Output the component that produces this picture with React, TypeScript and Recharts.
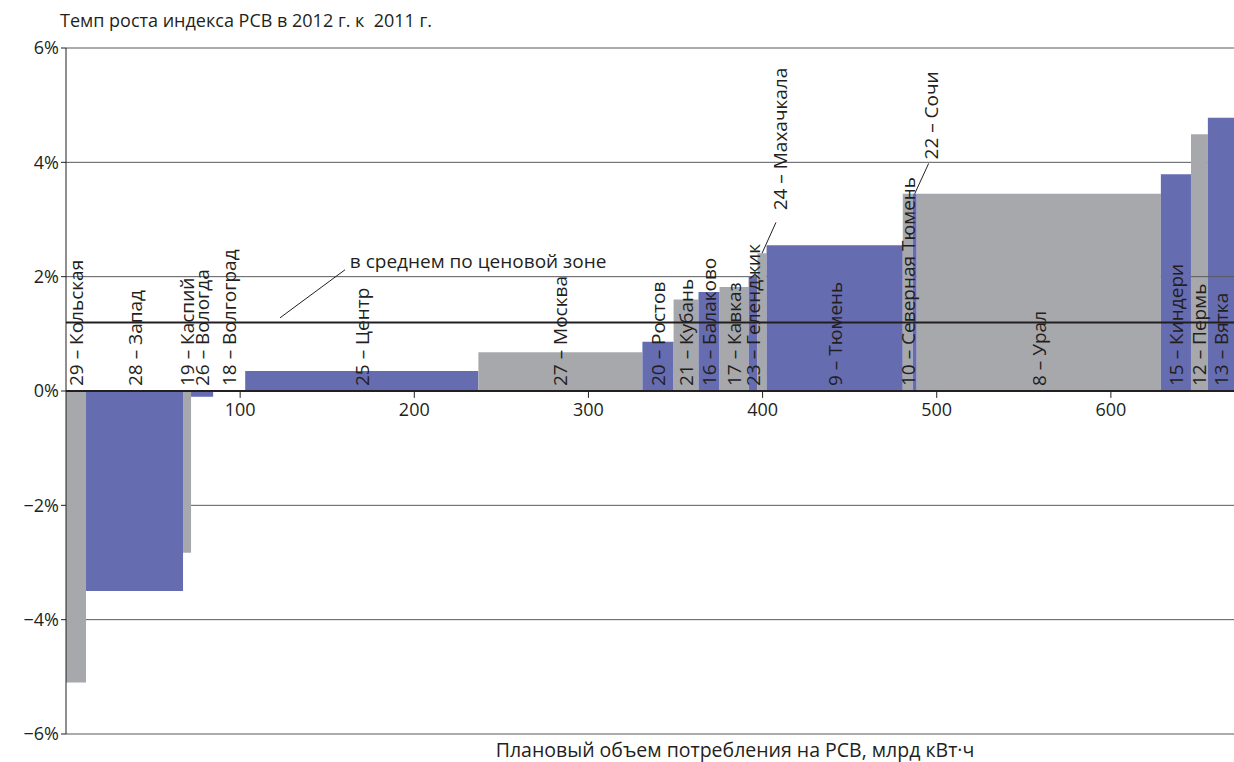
import { CartesianGrid, ComposedChart, ReferenceArea, ReferenceDot, ReferenceLine, Scatter, XAxis, YAxis } from 'recharts';

// regions in the order they are stacked along the volume axis
const regions = [
  '29 – Кольская',
  '28 – Запад',
  '19 – Каспий',
  '26 – Вологда',
  '18 – Волгоград',
  '25 – Центр',
  '27 – Москва',
  '20 – Ростов',
  '21 – Кубань',
  '16 – Балаково',
  '17 – Кавказ',
  '23 – Геленджик',
  '24 – Махачкала',
  '9 – Тюмень',
  '10 – Северная Тюмень',
  '22 – Сочи',
  '8 – Урал',
  '15 – Киндери',
  '12 – Пермь',
  '13 – Вятка',
];

// planned consumption, bn kWh (bar width)
const volumes = [11.5, 55.7, 4.6, 12.7, 18.4, 133.9, 94.2, 17.9, 14.3, 12.1, 16.7, 5.1, 5.2, 78.2, 5.7, 2.3, 140.2, 17.3, 9.7, 15.0];

// index growth 2012 vs 2011, % (bar height)
const growth = [-5.1, -3.5, -2.83, -0.1, 0, 0.35, 0.68, 0.86, 1.6, 1.73, 1.82, 2.0, 2.41, 2.55, 3.45, 3.45, 3.45, 3.79, 4.49, 4.78];

const shades = [
  'gray', 'blue', 'gray', 'blue', 'gray', 'blue', 'gray', 'blue', 'gray', 'blue',
  'gray', 'blue', 'gray', 'blue', 'gray', 'blue', 'gray', 'blue', 'gray', 'blue',
];

const averageGrowth = 1.2;
const xTicks = [100, 200, 300, 400, 500, 600];
const yTicks = [-6, -4, -2, 0, 2, 4, 6];

const COLORS: Record<string, string> = { blue: '#666cb0', gray: '#a7a8ab' };
const FONT = '"Open Sans", "Noto Sans", sans-serif';
const INK = '#231f20';
const GRID = '#58595b';
const LABEL_SIZE = 19;

// labels lifted above their bar on a short leader (offsets in axis units)
const CALLOUTS: Record<string, { leader: [number, number]; label: [number, number] }> = {
  '24 – Махачкала': { leader: [8, 0.54], label: [10.5, 0.75] },
  '22 – Сочи': { leader: [8, 0.53], label: [9.5, 0.6] },
};

const bars = regions.map((name, i) => {
  const start = volumes.slice(0, i).reduce((s, v) => s + v, 0);
  const end = start + volumes[i];
  return { name, start, end, mid: (start + end) / 2, value: growth[i], shade: shades[i] };
});
const xMax = bars[bars.length - 1].end;

// anchor points for the rotated region names
const labelPoints = bars.map((b) => {
  const c = CALLOUTS[b.name];
  return {
    name: b.name,
    x: c ? b.mid + c.label[0] : b.mid,
    y: c ? b.value + c.label[1] : 0,
    gap: c ? 0 : 5,
  };
});

const fmtPct = (v: number) => `${v < 0 ? '−' : ''}${Math.abs(v)}%`;

function VerticalLabel(props: any) {
  const { cx, cy, payload } = props;
  const py = cy - payload.gap;
  return (
    <text
      x={cx}
      y={py}
      transform={`rotate(-90 ${cx} ${py})`}
      textAnchor="start"
      dominantBaseline="central"
      fontSize={LABEL_SIZE}
      fontFamily={FONT}
      fill={INK}
    >
      {payload.name}
    </text>
  );
}

export default function App() {
  return (
    <div style={{ position: 'absolute', left: 0, top: 0, width: 1234, height: 762, background: '#fff', fontFamily: FONT }}>
      <div style={{ position: 'absolute', left: 60, top: 8, fontSize: 18, color: INK, whiteSpace: 'pre' }}>
        Темп роста индекса РСВ в 2012 г. к  2011 г.
      </div>
      <ComposedChart width={1234} height={762} margin={{ top: 48, right: 0, bottom: 28, left: 0 }}>
        <CartesianGrid horizontal vertical={false} stroke={GRID} />
        <XAxis type="number" dataKey="x" domain={[0, xMax]} hide allowDataOverflow />
        <YAxis
          type="number"
          dataKey="y"
          domain={[-6, 6]}
          ticks={yTicks}
          interval={0}
          width={66}
          allowDataOverflow
          tickFormatter={fmtPct}
          tick={{ fontSize: 18, fill: INK, fontFamily: FONT }}
          axisLine={{ stroke: INK }}
          tickLine={{ stroke: INK }}
          tickSize={5}
        />
        {bars.map((b) => (
          <ReferenceArea
            key={`bar-${b.name}`}
            x1={b.start}
            x2={b.end}
            y1={0}
            y2={b.value}
            fill={COLORS[b.shade]}
            fillOpacity={1}
            stroke="none"
            ifOverflow="visible"
          />
        ))}
        <ReferenceLine
          segment={[{ x: bars[18].start, y: 2 }, { x: xMax, y: 2 }]}
          stroke={GRID}
          ifOverflow="visible"
        />
        <ReferenceLine y={0} stroke={INK} strokeWidth={2} />
        <ReferenceLine y={averageGrowth} stroke={INK} strokeWidth={2} />
        <ReferenceLine
          segment={[{ x: 122.9, y: 1.28 }, { x: 160.2, y: 2.12 }]}
          stroke={INK}
          ifOverflow="visible"
        />
        <ReferenceDot
          x={163}
          y={2.27}
          r={0}
          fill="none"
          stroke="none"
          ifOverflow="visible"
          label={(p: any) => (
            <text x={p.viewBox.x} y={p.viewBox.y} dominantBaseline="central" fontSize={LABEL_SIZE} fontFamily={FONT} fill={INK}>
              в среднем по ценовой зоне
            </text>
          )}
        />
        {xTicks.map((t) => (
          <ReferenceLine
            key={`tick-${t}`}
            segment={[{ x: t, y: 0 }, { x: t, y: -0.12 }]}
            stroke={INK}
            ifOverflow="visible"
            label={(p: any) => (
              <text
                x={p.viewBox.x + (p.viewBox.width ?? 0) / 2}
                y={p.viewBox.y + (p.viewBox.height ?? 0) + 3}
                textAnchor="middle"
                dominantBaseline="hanging"
                fontSize={18}
                fontFamily={FONT}
                fill={INK}
              >
                {t}
              </text>
            )}
          />
        ))}
        {bars.map((b) => {
          const c = CALLOUTS[b.name];
          if (!c) return null;
          return (
            <ReferenceLine
              key={`lead-${b.name}`}
              segment={[{ x: b.mid, y: b.value }, { x: b.mid + c.leader[0], y: b.value + c.leader[1] }]}
              stroke={INK}
              ifOverflow="visible"
            />
          );
        })}
        <Scatter data={labelPoints} dataKey="y" shape={VerticalLabel} isAnimationActive={false} />
      </ComposedChart>
      <div style={{ position: 'absolute', left: 0, width: 1470, top: 736, textAlign: 'center', fontSize: 19.5, color: INK }}>
        Плановый объем потребления на РСВ, млрд кВт·ч
      </div>
    </div>
  );
}
